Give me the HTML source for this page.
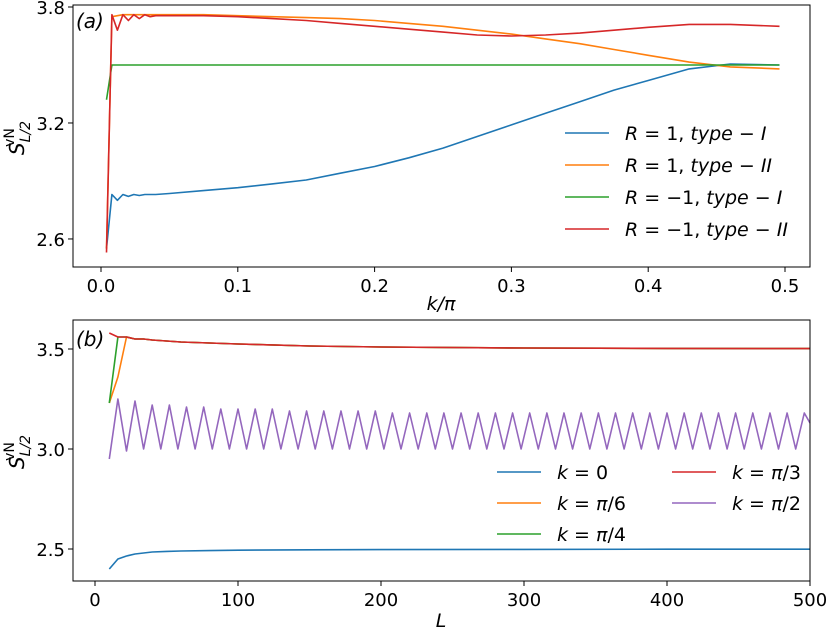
<!DOCTYPE html>
<html><head><meta charset="utf-8"><style>
body{margin:0;background:#fff}
svg text{font-family:"DejaVu Sans","Liberation Sans",sans-serif;fill:#000}
</style></head><body>
<svg id="fig" width="830" height="631" xmlns="http://www.w3.org/2000/svg"></svg>
<script>
// Panel (a) data
const aK = [0.004,0.008,0.012,0.016,0.020,0.024,0.028,0.032,0.036,0.040,0.05,0.075,0.1,0.125,0.15,0.175,0.2,0.225,0.25,0.275,0.3,0.325,0.35,0.375,0.4,0.43,0.46,0.496];
const aBlue = [2.55,2.83,2.80,2.83,2.82,2.83,2.825,2.83,2.83,2.83,2.835,2.85,2.865,2.885,2.905,2.94,2.975,3.02,3.07,3.13,3.19,3.25,3.31,3.37,3.42,3.48,3.505,3.50];
const aOrange = [2.55,3.75,3.755,3.76,3.76,3.76,3.76,3.76,3.76,3.76,3.76,3.76,3.755,3.75,3.745,3.74,3.73,3.715,3.70,3.68,3.66,3.635,3.61,3.58,3.55,3.515,3.49,3.48];
const aGreen = [3.32,3.50,3.50,3.50,3.50,3.50,3.50,3.50,3.50,3.50,3.50,3.50,3.50,3.50,3.50,3.50,3.50,3.50,3.50,3.50,3.50,3.50,3.50,3.50,3.50,3.50,3.50,3.50];
const aRed = [2.53,3.76,3.68,3.76,3.73,3.76,3.74,3.76,3.75,3.755,3.755,3.755,3.75,3.74,3.73,3.715,3.70,3.685,3.67,3.655,3.65,3.655,3.665,3.68,3.695,3.71,3.71,3.70];
const aXTicks = [0.0,0.1,0.2,0.3,0.4,0.5];
const aXTickLabels = ["0.0","0.1","0.2","0.3","0.4","0.5"];
const aYTicks = [2.6,3.2,3.8];
const aYTickLabels = ["2.6","3.2","3.8"];
// Panel (b) data
const bLsmooth = [10,16,22,28,34,40,50,60,80,100,150,200,300,400,500];
const bBlue = [2.40,2.45,2.465,2.475,2.48,2.485,2.488,2.49,2.492,2.494,2.496,2.497,2.498,2.499,2.499];
const bRed = [3.58,3.56,3.56,3.55,3.55,3.545,3.54,3.535,3.53,3.525,3.515,3.51,3.505,3.503,3.502];
const bGreen = [3.23,3.56,3.56,3.55,3.55,3.545,3.54,3.535,3.53,3.525,3.515,3.51,3.505,3.503,3.502];
const bOrange = [3.23,3.36,3.56,3.55,3.55,3.545,3.54,3.535,3.53,3.525,3.515,3.51,3.505,3.503,3.502];
const bLzig = [10,16,22,28,34,40,46,52,58,64,70,76,82,88,94,100,106,112,118,124,130,136,142,148,154,160,166,172,178,184,190,196,202,208,214,220,226,232,238,244,250,256,262,268,274,280,286,292,298,304,310,316,322,328,334,340,346,352,358,364,370,376,382,388,394,400,406,412,418,424,430,436,442,448,454,460,466,472,478,484,490,496,500];
const bPurple = [2.95,3.25,2.99,3.24,3.0,3.22,3.0,3.22,3.0,3.21,3.0,3.21,3.0,3.2,3.0,3.2,3.0,3.2,3.0,3.2,3.0,3.19,3.0,3.19,3.0,3.19,3.0,3.19,3.0,3.19,3.0,3.19,3.0,3.18,3.0,3.18,3.0,3.18,3.0,3.18,3.0,3.18,3.0,3.18,3.0,3.18,3.0,3.18,3.0,3.18,3.0,3.18,3.0,3.18,3.0,3.18,3.0,3.18,3.0,3.18,3.0,3.18,3.0,3.18,3.0,3.18,3.0,3.18,3.0,3.18,3.0,3.18,3.0,3.18,3.0,3.18,3.0,3.18,3.0,3.18,3.0,3.18,3.13];
const bXTicks = [0,100,200,300,400,500];
const bXTickLabels = ["0","100","200","300","400","500"];
const bYTicks = [2.5,3.0,3.5];
const bYTickLabels = ["2.5","3.0","3.5"];

const NS="http://www.w3.org/2000/svg";
const svg=document.getElementById('fig');
function mk(tag,attrs,parent){const e=document.createElementNS(NS,tag);for(const k in attrs)e.setAttribute(k,attrs[k]);(parent||svg).appendChild(e);return e;}

const ax={x:v=>101+v*1368,y:v=>7+(3.8-v)*193.3};
const bx={x:v=>95+v*1.43,y:v=>349+(3.5-v)*200};

function series(xs,ys,f,color,name){
  const d=xs.map((x,i)=>(i?'L':'M')+f.x(x).toFixed(1)+' '+f.y(ys[i]).toFixed(1)).join(' ');
  const p=mk('path',{d:d,fill:'none',stroke:color,'stroke-width':1.6,'stroke-linejoin':'round'});
  
  
}
function frame(x0,y0,x1,y1,name){
  const r=mk('rect',{x:x0,y:y0,width:x1-x0,height:y1-y0,fill:'none',stroke:'#000','stroke-width':1});
  
  
}
function ticks(f,xt,xl,yt,yl,x0,y1,pfx){
  xt.forEach((v,i)=>{const X=f.x(v);mk('line',{x1:X,x2:X,y1:y1,y2:y1+5,stroke:'#000'});
    const t=mk('text',{x:X,y:y1+25,'text-anchor':'middle','font-size':18});t.textContent=xl[i];
    
    });
  yt.forEach((v,i)=>{const Y=f.y(v);mk('line',{x1:x0-5,x2:x0,y1:Y,y2:Y,stroke:'#000'});
    const t=mk('text',{x:x0-8,y:Y+7,'text-anchor':'end','font-size':18});t.textContent=yl[i];
    
    });
}
function legendEntry(x,y,color,label,name){
  const g=mk('g',{});
  
  
  mk('line',{x1:x,x2:x+44,y1:y,y2:y,stroke:color,'stroke-width':1.6},g);
  const t=mk('text',{x:x+60,y:y+7,'font-size':19,'font-style':'italic'},g);t.innerHTML=label;
}

series(aK,aBlue,ax,'#1f77b4','series-a-r1-type1');
series(aK,aOrange,ax,'#ff7f0e','series-a-r1-type2');
series(aK,aGreen,ax,'#2ca02c','series-a-rm1-type1');
series(aK,aRed,ax,'#d62728','series-a-rm1-type2');
frame(73,5,810,267,'panel-a-axes');
ticks(ax,aXTicks,aXTickLabels,aYTicks,aYTickLabels,73,267,'panel-a');
legendEntry(565,133,'#1f77b4','R<tspan font-style="normal"> = 1, </tspan>type<tspan font-style="normal"> − </tspan>I','legend-entry-r1-type1');
legendEntry(565,165,'#ff7f0e','R<tspan font-style="normal"> = 1, </tspan>type<tspan font-style="normal"> − </tspan>II','legend-entry-r1-type2');
legendEntry(565,197,'#2ca02c','R<tspan font-style="normal"> = −1, </tspan>type<tspan font-style="normal"> − </tspan>I','legend-entry-rm1-type1');
legendEntry(565,229,'#d62728','R<tspan font-style="normal"> = −1, </tspan>type<tspan font-style="normal"> − </tspan>II','legend-entry-rm1-type2');

series(bLsmooth,bBlue,bx,'#1f77b4','series-b-k0');
series(bLsmooth,bOrange,bx,'#ff7f0e','series-b-k-pi6');
series(bLsmooth,bGreen,bx,'#2ca02c','series-b-k-pi4');
series(bLsmooth,bRed,bx,'#d62728','series-b-k-pi3');
series(bLzig,bPurple,bx,'#9467bd','series-b-k-pi2');
frame(73,320,810,581,'panel-b-axes');
ticks(bx,bXTicks,bXTickLabels,bYTicks,bYTickLabels,73,581,'panel-b');
legendEntry(497,472,'#1f77b4','k<tspan font-style="normal"> = 0</tspan>','legend-entry-k0');
legendEntry(497,503,'#ff7f0e','k<tspan font-style="normal"> = </tspan>π<tspan font-style="normal">/6</tspan>','legend-entry-k-pi6');
legendEntry(497,534,'#2ca02c','k<tspan font-style="normal"> = </tspan>π<tspan font-style="normal">/4</tspan>','legend-entry-k-pi4');
legendEntry(672,472,'#d62728','k<tspan font-style="normal"> = </tspan>π<tspan font-style="normal">/3</tspan>','legend-entry-k-pi3');
legendEntry(672,503,'#9467bd','k<tspan font-style="normal"> = </tspan>π<tspan font-style="normal">/2</tspan>','legend-entry-k-pi2');
</script>
<svg style="position:absolute;left:0;top:0" width="830" height="631" xmlns="http://www.w3.org/2000/svg">
<text x="76" y="28" font-size="20" font-style="italic">(a)</text>
<text x="76" y="346" font-size="20" font-style="italic">(b)</text>
<text x="441" y="310" font-size="19" font-style="italic" text-anchor="middle">k/π</text>
<text x="441" y="627" font-size="19" font-style="italic" text-anchor="middle">L</text>
<text transform="translate(24,138) rotate(-90)" font-size="20" font-style="italic" text-anchor="middle">S<tspan font-size="14" dy="6">L/2</tspan><tspan font-size="14" font-style="normal" dx="-26" dy="-16">vN</tspan></text>
<text transform="translate(24,452) rotate(-90)" font-size="20" font-style="italic" text-anchor="middle">S<tspan font-size="14" dy="6">L/2</tspan><tspan font-size="14" font-style="normal" dx="-26" dy="-16">vN</tspan></text>
</svg>
</body></html>
